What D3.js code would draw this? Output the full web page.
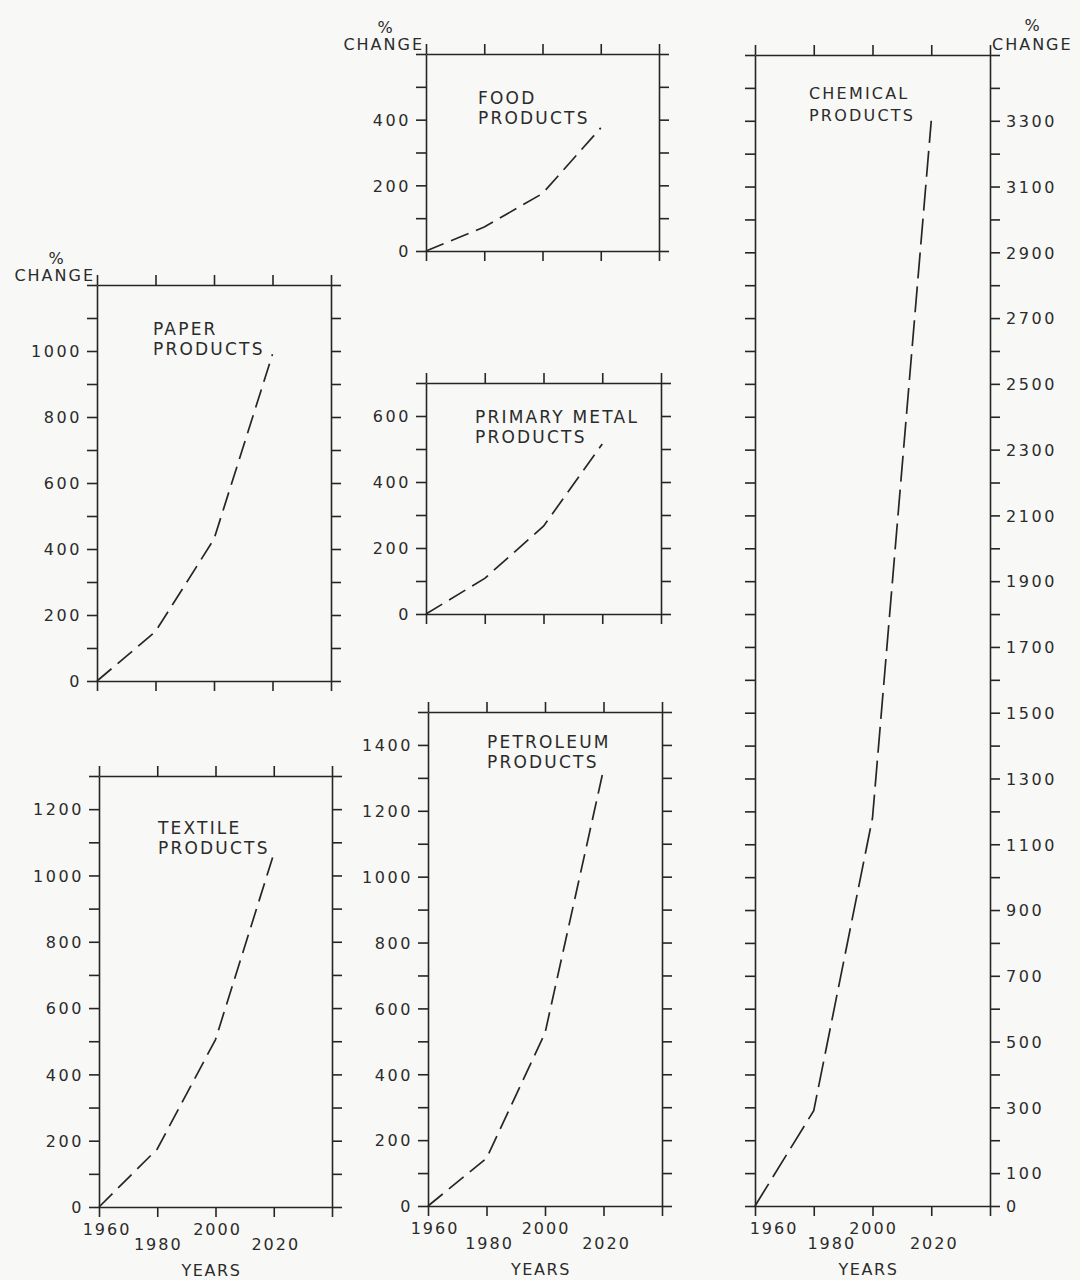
<!DOCTYPE html>
<html>
<head>
<meta charset="utf-8">
<script src="https://cdn.jsdelivr.net/npm/d3@7"></script>
<style>
body { margin: 0; background: #f8f8f6; }
svg { display: block; }
text { font-family: "DejaVu Sans", sans-serif; fill: #2b2b2b; }
</style>
</head>
<body>
<script>
var width = 1080, height = 1280;

// data (percent change from 1960)
var years = [1960, 1980, 2000, 2020];
var yearTicks = [1960, 1980, 2000, 2020, 2040];
var yearLabels = ["1960", "1980", "2000", "2020"];

var paperValues = [0, 150, 430, 990];
var textileValues = [0, 175, 505, 1065];
var foodValues = [0, 73, 175, 375];
var metalValues = [0, 108, 266, 515];
var petroleumValues = [0, 145, 525, 1325];
var chemicalValues = [0, 290, 1180, 3300];

var paperLabels = [0, 200, 400, 600, 800, 1000];
var textileLabels = [0, 200, 400, 600, 800, 1000, 1200];
var foodLabels = [0, 200, 400];
var metalLabels = [0, 200, 400, 600];
var petroleumLabels = [0, 200, 400, 600, 800, 1000, 1200, 1400];
var chemicalLabels = [0, 100, 300, 500, 700, 900, 1100, 1300, 1500, 1700, 1900,
                      2100, 2300, 2500, 2700, 2900, 3100, 3300];

// layout of each small chart
var panels = [
  { title: ["PAPER", "PRODUCTS"], values: paperValues, labels: paperLabels, max: 1200,
    x0: 97, x1: 331, y0: 285, y1: 681, side: "left", change: true, tx: 153, ty: 335 },
  { title: ["TEXTILE", "PRODUCTS"], values: textileValues, labels: textileLabels, max: 1300,
    x0: 99, x1: 332, y0: 776, y1: 1207, side: "left", tx: 158, ty: 834,
    yearDx: [8, 1, 2, 2] },
  { title: ["FOOD", "PRODUCTS"], values: foodValues, labels: foodLabels, max: 600,
    x0: 426, x1: 659, y0: 54, y1: 251, side: "left", change: true, tx: 478, ty: 104 },
  { title: ["PRIMARY METAL", "PRODUCTS"], values: metalValues, labels: metalLabels, max: 700,
    x0: 426, x1: 661, y0: 383, y1: 614, side: "left", tx: 475, ty: 423 },
  { title: ["PETROLEUM", "PRODUCTS"], values: petroleumValues, labels: petroleumLabels, max: 1500,
    x0: 428, x1: 662, y0: 712, y1: 1206, side: "left", tx: 487, ty: 748,
    yearDx: [7, 3, 1, 3] },
  { title: ["CHEMICAL", "PRODUCTS"], values: chemicalValues, labels: chemicalLabels, max: 3500,
    x0: 755, x1: 990, y0: 55, y1: 1206, side: "right", change: true, tx: 809, ty: 99,
    yearDx: [19, 18, 1, 3], small: true, dash: "26,8" }
];

var svg = d3.select("body").append("svg")
    .attr("width", width).attr("height", height);

panels.forEach(function(p) {
  var x = d3.scaleLinear().domain([1960, 2040]).range([p.x0, p.x1]);
  var y = d3.scaleLinear().domain([0, p.max]).range([p.y1, p.y0]);
  var steps = d3.range(0, p.max + 1, 100);
  var g = svg.append("g");

  var fmt = function(d) { return p.labels.indexOf(d) >= 0 ? String(d) : ""; };
  var none = function() { return ""; };

  var left = g.append("g").attr("transform", "translate(" + p.x0 + ",0)")
      .call(d3.axisLeft(y).tickValues(steps).tickSize(10).tickSizeOuter(0)
        .tickPadding(5).tickFormat(p.side == "left" ? fmt : none));
  var right = g.append("g").attr("transform", "translate(" + p.x1 + ",0)")
      .call(d3.axisRight(y).tickValues(steps).tickSize(10).tickSizeOuter(0)
        .tickPadding(6).tickFormat(p.side == "right" ? fmt : none));
  var top = g.append("g").attr("transform", "translate(0," + p.y0 + ")")
      .call(d3.axisTop(x).tickValues(yearTicks).tickSize(10).tickSizeOuter(0).tickFormat(none));
  var bottom = g.append("g").attr("transform", "translate(0," + p.y1 + ")")
      .call(d3.axisBottom(x).tickValues(yearTicks).tickSize(10).tickSizeOuter(0).tickFormat(none));

  g.selectAll(".domain, .tick line").attr("stroke", "#262626").attr("stroke-width", 1.6);
  g.selectAll(".tick text")
      .attr("font-size", 16).attr("font-family", null)
      .style("letter-spacing", "2.6px").attr("dy", "0.36em");
  g.selectAll("g").attr("font-family", null).attr("font-size", null);

  // staggered year labels under the bottom charts
  if (p.yearDx) {
    var yl = g.append("g");
    yl.selectAll("text").data(years).enter().append("text")
        .attr("x", function(d, i) { return x(d) + p.yearDx[i]; })
        .attr("y", function(d, i) { return p.y1 + (i % 2 ? 43 : 28); })
        .attr("text-anchor", "middle")
        .attr("font-size", 16)
        .style("letter-spacing", "2px")
        .text(function(d, i) { return yearLabels[i]; });
    g.append("text")
        .attr("x", x(2000) - 4).attr("y", p.y1 + 69)
        .attr("text-anchor", "middle").attr("font-size", 16)
        .style("letter-spacing", "1.6px")
        .text("YEARS");
  }

  // % CHANGE heading
  if (p.change) {
    if (p.side == "left") {
      g.append("text").attr("x", p.x0 - 41).attr("y", p.y0 - 21)
          .attr("text-anchor", "middle").attr("font-size", 16).text("%");
      g.append("text").attr("x", p.x0 - 2).attr("y", p.y0 - 4)
          .attr("text-anchor", "end").attr("font-size", 16)
          .style("letter-spacing", "2px").text("CHANGE");
    } else {
      g.append("text").attr("x", p.x1 + 42).attr("y", p.y0 - 24)
          .attr("text-anchor", "middle").attr("font-size", 16).text("%");
      g.append("text").attr("x", p.x1 + 2).attr("y", p.y0 - 5)
          .attr("font-size", 16)
          .style("letter-spacing", "2px").text("CHANGE");
    }
  }

  // chart title
  var fs = p.small ? 16 : 17;
  g.append("text").attr("x", p.tx).attr("y", p.ty)
      .attr("font-size", fs).style("letter-spacing", "2.2px").text(p.title[0]);
  g.append("text").attr("x", p.tx).attr("y", p.ty + (p.small ? 22 : 20))
      .attr("font-size", fs).style("letter-spacing", "2.2px").text(p.title[1]);

  // dashed projection line
  var line = d3.line()
      .x(function(d, i) { return x(years[i]); })
      .y(function(d) { return y(d); });
  g.append("path").datum(p.values)
      .attr("d", line)
      .attr("fill", "none")
      .attr("stroke", "#262626")
      .attr("stroke-width", 1.7)
      .attr("stroke-dasharray", p.dash || "19,8");
});
</script>
</body>
</html>
